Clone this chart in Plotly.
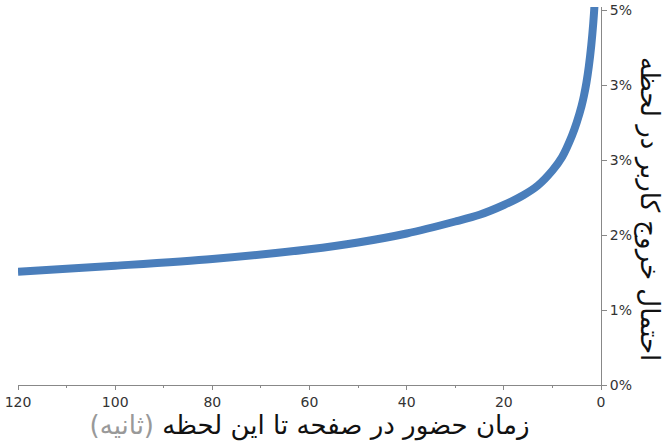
import plotly.graph_objects as go

# time on page so far (seconds)
seconds = [120, 100, 80, 60, 50, 40, 30, 25, 20, 16, 13, 10, 8, 6, 5, 4, 3.5, 3, 2.5, 2, 1.6, 1.3, 1.0]
# probability of user exit at this moment (percent)
exit_prob_pct = [1.51, 1.59, 1.68, 1.81, 1.90, 2.02, 2.18, 2.27, 2.40, 2.53, 2.66, 2.86, 3.04,
                 3.32, 3.50, 3.72, 3.86, 4.03, 4.25, 4.53, 4.82, 5.10, 5.50]

y_tick_vals = [0, 1, 2, 3, 4, 5]
y_tick_text = ["0%", "1%", "2%", "3%", "3%", "5%"]
x_tick_vals = [120, 100, 80, 60, 40, 20, 0]

x_title = "زمان حضور در صفحه تا این لحظه <span style='color:#999999'>(ثانیه)</span>"
y_title = "احتمال خروج کاربر در لحظه"

FONT = "DejaVu Sans"

fig = go.Figure()
fig.add_trace(go.Scatter(
    x=seconds, y=exit_prob_pct, mode="lines",
    line=dict(color="#4A7EBB", width=8, shape="spline", smoothing=0.8),
    hoverinfo="skip", showlegend=False,
))

fig.update_layout(
    width=665, height=443,
    margin=dict(l=18, r=64, t=7, b=58),
    paper_bgcolor="white", plot_bgcolor="white",
    font=dict(family=FONT, size=14, color="#333333"),
    xaxis=dict(
        range=[120, 0], tickvals=x_tick_vals, automargin=False,
        showgrid=False, zeroline=False,
        showline=True, linecolor="#888888", linewidth=1,
        ticks="outside", ticklen=4, tickcolor="#888888",
        minor=dict(dtick=10, ticks="outside", ticklen=2, tickcolor="#888888"),
        tickfont=dict(size=14, color="#333333"),
        title=dict(text=x_title, font=dict(size=26, color="#111111"), standoff=0),
    ),
    yaxis=dict(
        range=[0, 5.04], side="right", tickvals=y_tick_vals, ticktext=y_tick_text,
        automargin=False, ticklabeloverflow="allow",
        showgrid=False, zeroline=False,
        showline=True, linecolor="#888888", linewidth=1,
        ticks="outside", ticklen=5, tickcolor="#888888",
        tickfont=dict(size=14, color="#333333"),
    ),
    annotations=[dict(
        text=y_title, textangle=90, showarrow=False,
        xref="paper", yref="paper", x=1.0, y=0.5, xanchor="center", yanchor="middle",
        xshift=49, yshift=-13, font=dict(size=26, color="#111111"),
    )],
)

fig.write_html(
    "out.html",
    config={"displayModeBar": False},
    post_script="document.body.style.margin='0';document.body.style.overflow='hidden';",
)
